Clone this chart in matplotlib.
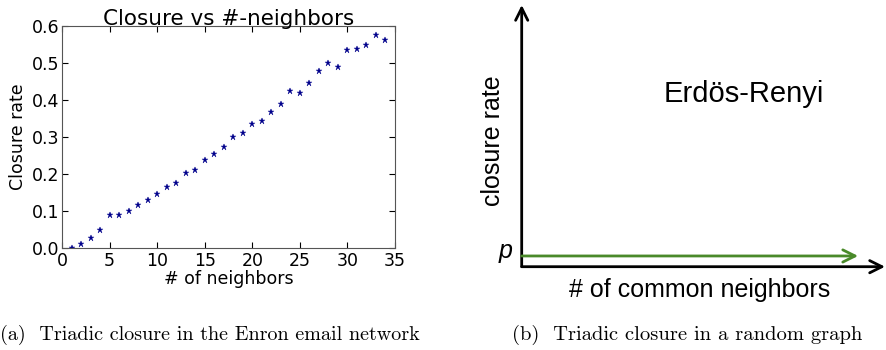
import numpy as np
import matplotlib
matplotlib.use("Agg")
import matplotlib.pyplot as plt

# Enron: closure rate vs number of common neighbors
n_neighbors = np.arange(1, 35)
closure = [0.001, 0.012, 0.028, 0.048, 0.090, 0.088, 0.101, 0.116, 0.130, 0.146,
           0.164, 0.177, 0.202, 0.212, 0.237, 0.255, 0.274, 0.299, 0.312, 0.335,
           0.344, 0.367, 0.389, 0.425, 0.420, 0.446, 0.479, 0.501, 0.490, 0.536,
           0.539, 0.548, 0.576, 0.561]

# Erdos-Renyi sketch: constant closure rate p
er_x = [0.0, 0.926]
er_p = [0.041, 0.041]

W, H = 886, 350
fig = plt.figure(figsize=(W / 100, H / 100), dpi=100)

# panel (a)
ax = fig.add_axes([62 / W, (H - 248) / H, 333 / W, 222 / H])
ax.plot(n_neighbors, closure, '*', color='#00008b', markersize=5, markeredgewidth=0.3)
ax.set_xlim(0, 35)
ax.set_ylim(0, 0.6)
ax.set_xticks(range(0, 36, 5))
ax.set_yticks(np.arange(0, 0.61, 0.1))
ax.set_yticklabels(['%.1f' % v for v in np.arange(0, 0.61, 0.1)])
ax.tick_params(direction='in', top=True, right=True, labelsize=12.5, length=4)
ax.tick_params(axis='y', pad=2)
ax.tick_params(axis='x', pad=3)
for s in ax.spines.values():
    s.set_color('#555555')
ax.set_xlabel('# of neighbors', fontsize=12.5, labelpad=0)
ax.set_ylabel('Closure rate', fontsize=12.5, labelpad=3)
ax.set_title('Closure vs #-neighbors', fontsize=15.5, pad=1)

# panel (b): schematic with arrows
bx = fig.add_axes([521.7 / W, (H - 266.7) / H, 363.3 / W, 261.7 / H])
bx.set_xlim(0, 1)
bx.set_ylim(0, 1)
bx.axis('off')
bx.annotate('', xy=(0, 1.0), xytext=(0, 0), xycoords='axes fraction',
            arrowprops=dict(arrowstyle='->', lw=2, color='black',
                            mutation_scale=22, shrinkA=0, shrinkB=0))
bx.annotate('', xy=(1.0, 0), xytext=(0, 0), xycoords='axes fraction',
            arrowprops=dict(arrowstyle='->', lw=2, color='black',
                            mutation_scale=22, shrinkA=0, shrinkB=0))
bx.annotate('', xy=(er_x[1], er_p[1]), xytext=(er_x[0], er_p[0]),
            xycoords='axes fraction',
            arrowprops=dict(arrowstyle='->', lw=2, color='#4a8a2a',
                            mutation_scale=22, shrinkA=0, shrinkB=0))
bx.text(-0.025, er_p[0] + 0.02, 'p', ha='right', va='center', fontsize=18,
        style='italic', family='Liberation Sans', transform=bx.transAxes)
bx.text(0.61, 0.66, 'Erdös-Renyi', ha='center', va='center', fontsize=21,
        family='Liberation Sans', transform=bx.transAxes)
bx.text(-0.08, 0.48, 'closure rate', ha='center', va='center', fontsize=18,
        rotation=90, family='Liberation Sans', transform=bx.transAxes)
bx.text(0.49, -0.09, '# of common neighbors', ha='center', va='center',
        fontsize=18, family='Liberation Sans', transform=bx.transAxes)

# captions
fig.text(0.0, (H - 335) / H, '(a)  Triadic closure in the Enron email network',
         ha='left', va='center', fontsize=14.5, family='cmr10')
fig.text(512 / W, (H - 335) / H, '(b)  Triadic closure in a random graph',
         ha='left', va='center', fontsize=14.8, family='cmr10')

fig.savefig('out.png', dpi=100)
